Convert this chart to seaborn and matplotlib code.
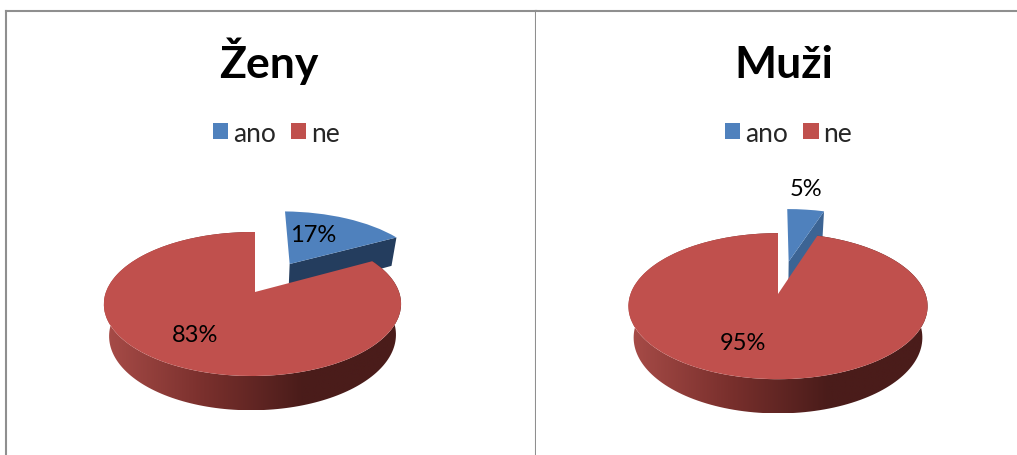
"""Two tilted 3D-look pies: ano / ne answers for women and men."""

import numpy as np
import seaborn as sns
import matplotlib.pyplot as plt
from matplotlib.colors import LinearSegmentedColormap
from matplotlib.patches import Polygon
from matplotlib.transforms import Transform

CATEGORIES = ["ano", "ne"]
TITLES = ["Ženy", "Muži"]
ZENY_VALUES = [17, 83]
MUZI_VALUES = [5, 95]
EXPLODE = [0.5, 0.0]

sns.set_theme(style="white")
plt.rcParams["font.family"] = ["Lato", "DejaVu Sans"]

PIE_COLORS = sns.color_palette(["#4f81bd", "#c0504d"])
WALL_CMAP = LinearSegmentedColormap.from_list(
    "wall", ["#a84c48", "#7a302d", "#4a1c1a", "#4a1c1a"])
BORDER = "#8f8f8f"
FW, FH = 1017, 456
TILT = 1 / 6
DEPTH = 31
SHRINK = 0.965


class Tilt(Transform):
    """Perspective view of the pie plane, output in image pixels."""
    input_dims = 2
    output_dims = 2
    is_separable = False

    def __init__(self, x0, y0, rx, ry, lean=0.0, shrink=1.0, depth=0.0):
        super().__init__()
        self.p = (x0, y0, rx, ry, lean, shrink, depth)

    def transform_non_affine(self, values):
        x0, y0, rx, ry, k, s, h = self.p
        u, v = np.asarray(values).T
        den = 1 + TILT * v + k * u
        return np.column_stack([x0 + s * rx * u / den,
                                y0 - (s * ry * v - h) / den])


def rim(wedge, n=200):
    t = np.radians(np.linspace(wedge.theta1, wedge.theta2, n))
    cx, cy = wedge.center
    return np.column_stack([cx + wedge.r * np.cos(t), cy + wedge.r * np.sin(t)])


def draw_panel(ax, box, values, title, view, title_x, legend_x, pct_xy, side):
    wedges, _ = ax.pie(values, explode=EXPLODE, colors=PIE_COLORS, startangle=90,
                       counterclock=False, wedgeprops={"linewidth": 0})
    top = Tilt(*view)
    low = Tilt(*view, SHRINK, DEPTH)
    blue, red = wedges

    # cut face of the pulled out slice, along its clockwise edge
    ends = np.array([blue.center, rim(blue)[0]])
    face = np.vstack([top.transform(ends), low.transform(ends)[::-1]])
    ax.add_patch(Polygon(face, color=side, lw=0, zorder=1))
    blue.set_transform(top + ax.transData)
    blue.set_zorder(2)

    # outer wall of the big slice, shaded left to right
    edge = rim(red)
    wall = np.vstack([top.transform(edge), low.transform(edge)[::-1]])
    clip = Polygon(wall, transform=ax.transData)
    im = ax.imshow(np.linspace(0, 1, 256)[None, :], cmap=WALL_CMAP, aspect="auto",
                   extent=(wall[:, 0].min(), wall[:, 0].max(),
                           wall[:, 1].max(), wall[:, 1].min()), zorder=3)
    im.set_clip_path(clip)
    red.set_transform(top + ax.transData)
    red.set_zorder(4)

    for v, (px, py) in zip(values, pct_xy):
        ax.text(px, py, f"{v}%", fontsize=17, color="black", ha="center",
                va="center", zorder=5)

    ax.set_aspect("auto")
    ax.set_xlim(box[0], box[1])
    ax.set_ylim(box[3], box[2])
    ax.set_title(title, fontsize=32, fontweight="bold", color="black",
                 x=title_x, y=0.832)
    ax.legend(wedges, CATEGORIES, ncol=2, frameon=False, fontsize=19,
              loc="center", bbox_to_anchor=(legend_x, 0.725),
              handlelength=0.58, handleheight=0.58, handletextpad=0.18,
              columnspacing=0.58, labelspacing=0, borderpad=0)
    ax.set_frame_on(True)
    for name, sp in ax.spines.items():
        sp.set_color(BORDER)
        sp.set_linewidth(1.5)
        sp.set_visible(name == "top" or name in ("left", "right") and box[0] < 100)


fig = plt.figure(figsize=(FW / 100, FH / 100), dpi=100)
BOXES = [(6, 536, 12, 456), (536, 1017, 12, 456)]
axes = [fig.add_axes([b[0] / FW, 0, (b[1] - b[0]) / FW, (b[3] - b[2]) / FH]) for b in BOXES]

draw_panel(axes[0], BOXES[0], ZENY_VALUES, TITLES[0], (255, 293, 146.5, 70, 0.017),
           0.496, 0.510, [(313, 236), (195, 336)], "#243d5e")
draw_panel(axes[1], BOXES[1], MUZI_VALUES, TITLES[1], (778, 295, 147.5, 71, 0.0),
           0.5156, 0.525, [(806, 190), (743, 344)], "#3c6494")

fig.savefig("out.png", dpi=100)
